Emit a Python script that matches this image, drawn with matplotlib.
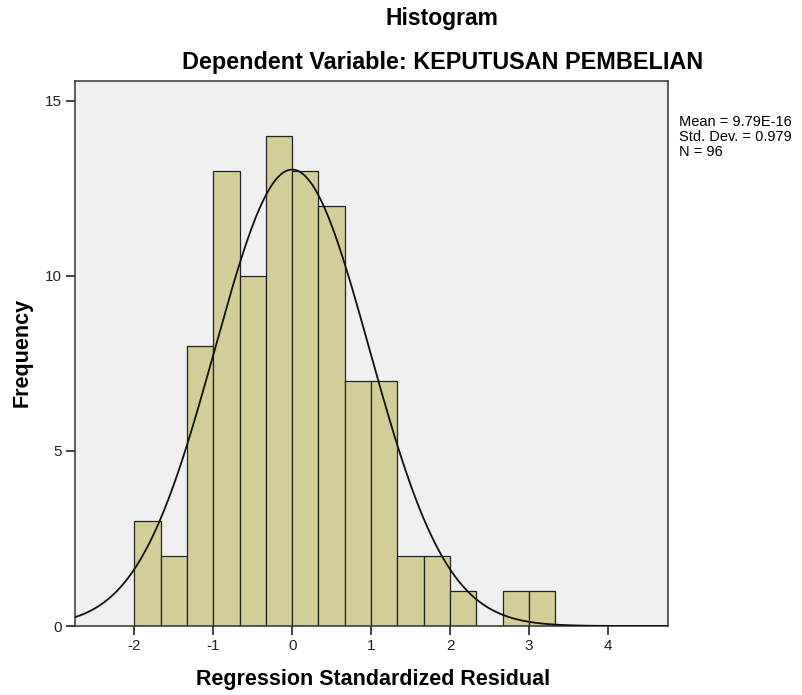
import numpy as np
import matplotlib
matplotlib.use("Agg")
import matplotlib.pyplot as plt

plt.rcParams['font.family'] = ['Liberation Sans', 'DejaVu Sans']
plt.rcParams['axes.unicode_minus'] = False

bin_edges_start = -2.0
bin_width = 1 / 3
counts = [3, 2, 8, 13, 10, 14, 13, 12, 7, 7, 2, 2, 1, 0, 1, 1]
mean = 9.79e-16
sd = 0.979
n = 96
x_ticks = [-2, -1, 0, 1, 2, 3, 4]
y_ticks = [0, 5, 10, 15]

fig = plt.figure(figsize=(8.03, 6.95), dpi=100)
ax = fig.add_axes([75 / 803, 1 - 626 / 695, (668 - 75) / 803, (626 - 81) / 695])
ax.set_facecolor('#F0F0F0')

lefts = bin_edges_start + bin_width * np.arange(len(counts))
ax.bar(lefts, counts, width=bin_width, align='edge', color='#D3CE97',
       edgecolor='#222222', linewidth=0.9, zorder=2)

xs = np.linspace(-2.75, 4.76, 600)
ys = n * bin_width * np.exp(-0.5 * ((xs - mean) / sd) ** 2) / (sd * np.sqrt(2 * np.pi))
ax.plot(xs, ys, color='#111111', linewidth=1.3, zorder=3)

ax.set_xlim(-2.75, 4.76)
ax.set_ylim(0, 15.57)
ax.set_xticks(x_ticks)
ax.set_yticks(y_ticks)
ax.tick_params(direction='out', length=6.5, width=1.2, labelsize=11, colors='#222222', pad=3)
for s in ax.spines.values():
    s.set_color('#333333')
    s.set_linewidth(1.1)

ax.set_xlabel('Regression Standardized Residual', fontsize=15.5, fontweight='bold', va='center')
ax.set_ylabel('Frequency', fontsize=15.5, fontweight='bold', va='center')
ax.xaxis.set_label_coords((373 - 75) / 593, (626 - 679) / 545)
ax.yaxis.set_label_coords((22 - 75) / 593, (626 - 352) / 545)

fig.text(442 / 803, 1 - 19 / 695, 'Histogram', ha='center', va='center',
         fontsize=16.5, fontweight='bold')
fig.text(443 / 803, 1 - 62 / 695, 'Dependent Variable: KEPUTUSAN PEMBELIAN', ha='center',
         va='center', fontsize=16.8, fontweight='bold')
fig.text(679 / 803, 1 - 137 / 695, 'Mean = 9.79E-16\nStd. Dev. = 0.979\nN = 96',
         ha='left', va='center', fontsize=10.5, linespacing=1.1)

fig.savefig('out.png', dpi=100)
